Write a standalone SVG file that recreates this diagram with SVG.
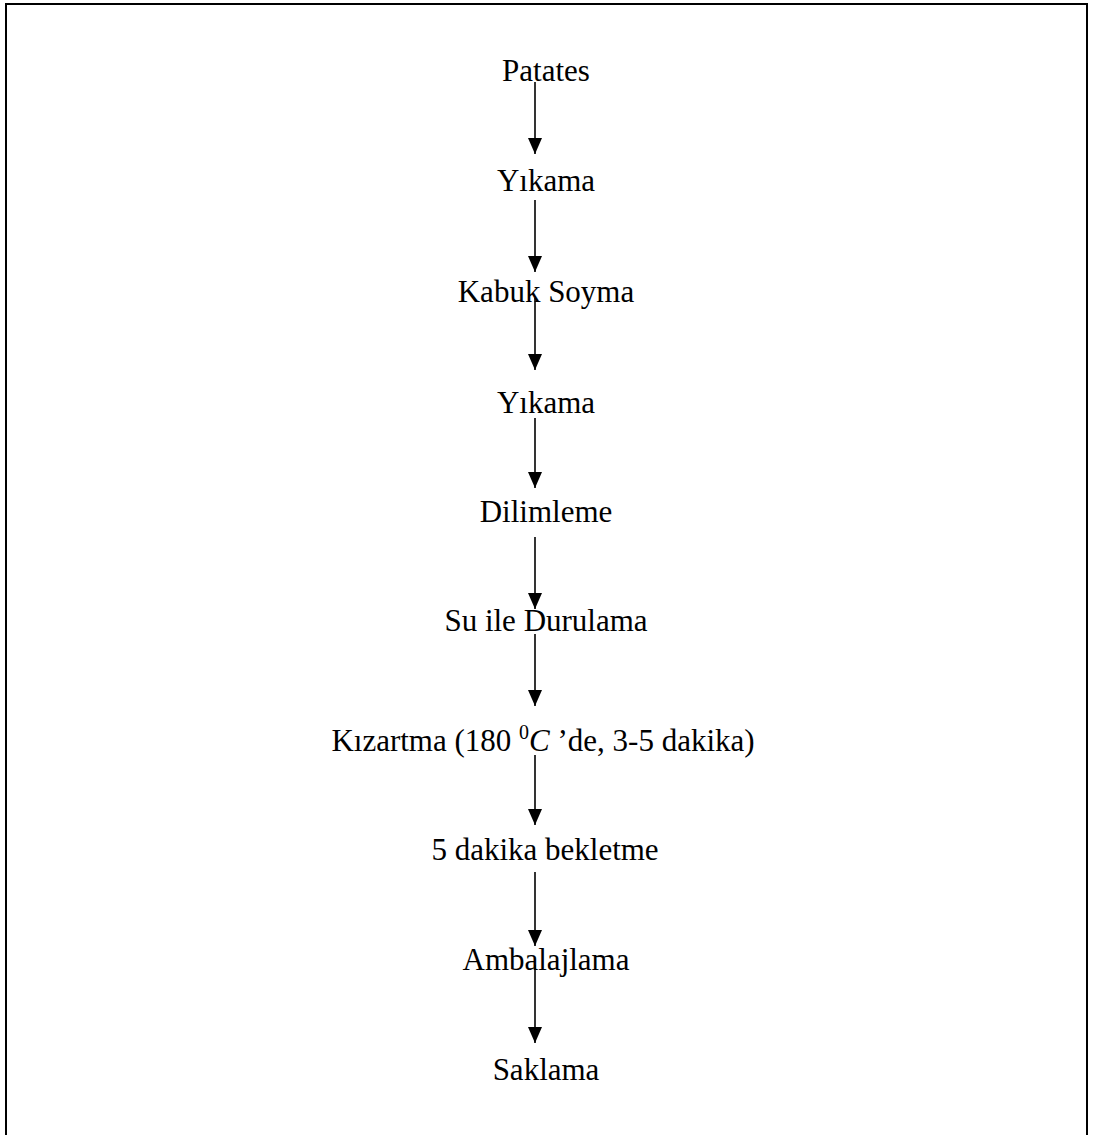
<svg xmlns="http://www.w3.org/2000/svg" width="1094" height="1135" viewBox="0 0 1094 1135">
  <defs>
    <style>
      text { font-family: 'Liberation Serif', 'DejaVu Serif', 'Times New Roman', serif; font-size: 31px; fill: #000; text-anchor: middle; }
      .sup { font-size: 20px; }
      .it { font-style: italic; }
      .conn line { stroke: #000; stroke-width: 1.6; }
    </style>
    <marker id="ah" viewBox="0 0 16 14" refX="16" refY="7" markerWidth="16" markerHeight="14" markerUnits="userSpaceOnUse" orient="auto">
      <path d="M0,0 L16,7 L0,14 Z" fill="#000"/>
    </marker>
  </defs>
  <rect width="1094" height="1135" fill="#fff"/>
  <rect x="6" y="4" width="1081" height="1150" fill="none" stroke="#000" stroke-width="2"/>

  <g id="connectors" class="conn">
    <line x1="535" y1="82" x2="535" y2="154" marker-end="url(#ah)"/>
    <line x1="535" y1="200" x2="535" y2="272" marker-end="url(#ah)"/>
    <line x1="535" y1="298" x2="535" y2="370" marker-end="url(#ah)"/>
    <line x1="535" y1="418" x2="535" y2="488" marker-end="url(#ah)"/>
    <line x1="535" y1="537" x2="535" y2="609" marker-end="url(#ah)"/>
    <line x1="535" y1="634" x2="535" y2="706" marker-end="url(#ah)"/>
    <line x1="535" y1="755" x2="535" y2="825" marker-end="url(#ah)"/>
    <line x1="535" y1="872" x2="535" y2="946" marker-end="url(#ah)"/>
    <line x1="535" y1="965" x2="535" y2="1043" marker-end="url(#ah)"/>
  </g>

  <g id="n1"><text x="546" y="81" font-family="Liberation Serif, serif">Patates</text></g>
  <g id="n2"><text x="546" y="191" font-family="Liberation Serif, serif">Yıkama</text></g>
  <g id="n3"><text x="546" y="302" font-family="Liberation Serif, serif">Kabuk Soyma</text></g>
  <g id="n4"><text x="546" y="413" font-family="Liberation Serif, serif">Yıkama</text></g>
  <g id="n5"><text x="546" y="522" font-family="Liberation Serif, serif">Dilimleme</text></g>
  <g id="n6"><text x="546" y="631" font-family="Liberation Serif, serif">Su ile Durulama</text></g>
  <g id="n7"><text x="543" y="751" font-family="Liberation Serif, serif">Kızartma (180 <tspan class="sup" dy="-12">0</tspan><tspan class="it" dy="12">C</tspan> ’de, 3-5 dakika)</text></g>
  <g id="n8"><text x="545" y="860" font-family="Liberation Serif, serif">5 dakika bekletme</text></g>
  <g id="n9"><text x="546" y="970" font-family="Liberation Serif, serif">Ambalajlama</text></g>
  <g id="n10"><text x="546" y="1080" font-family="Liberation Serif, serif">Saklama</text></g>
</svg>
